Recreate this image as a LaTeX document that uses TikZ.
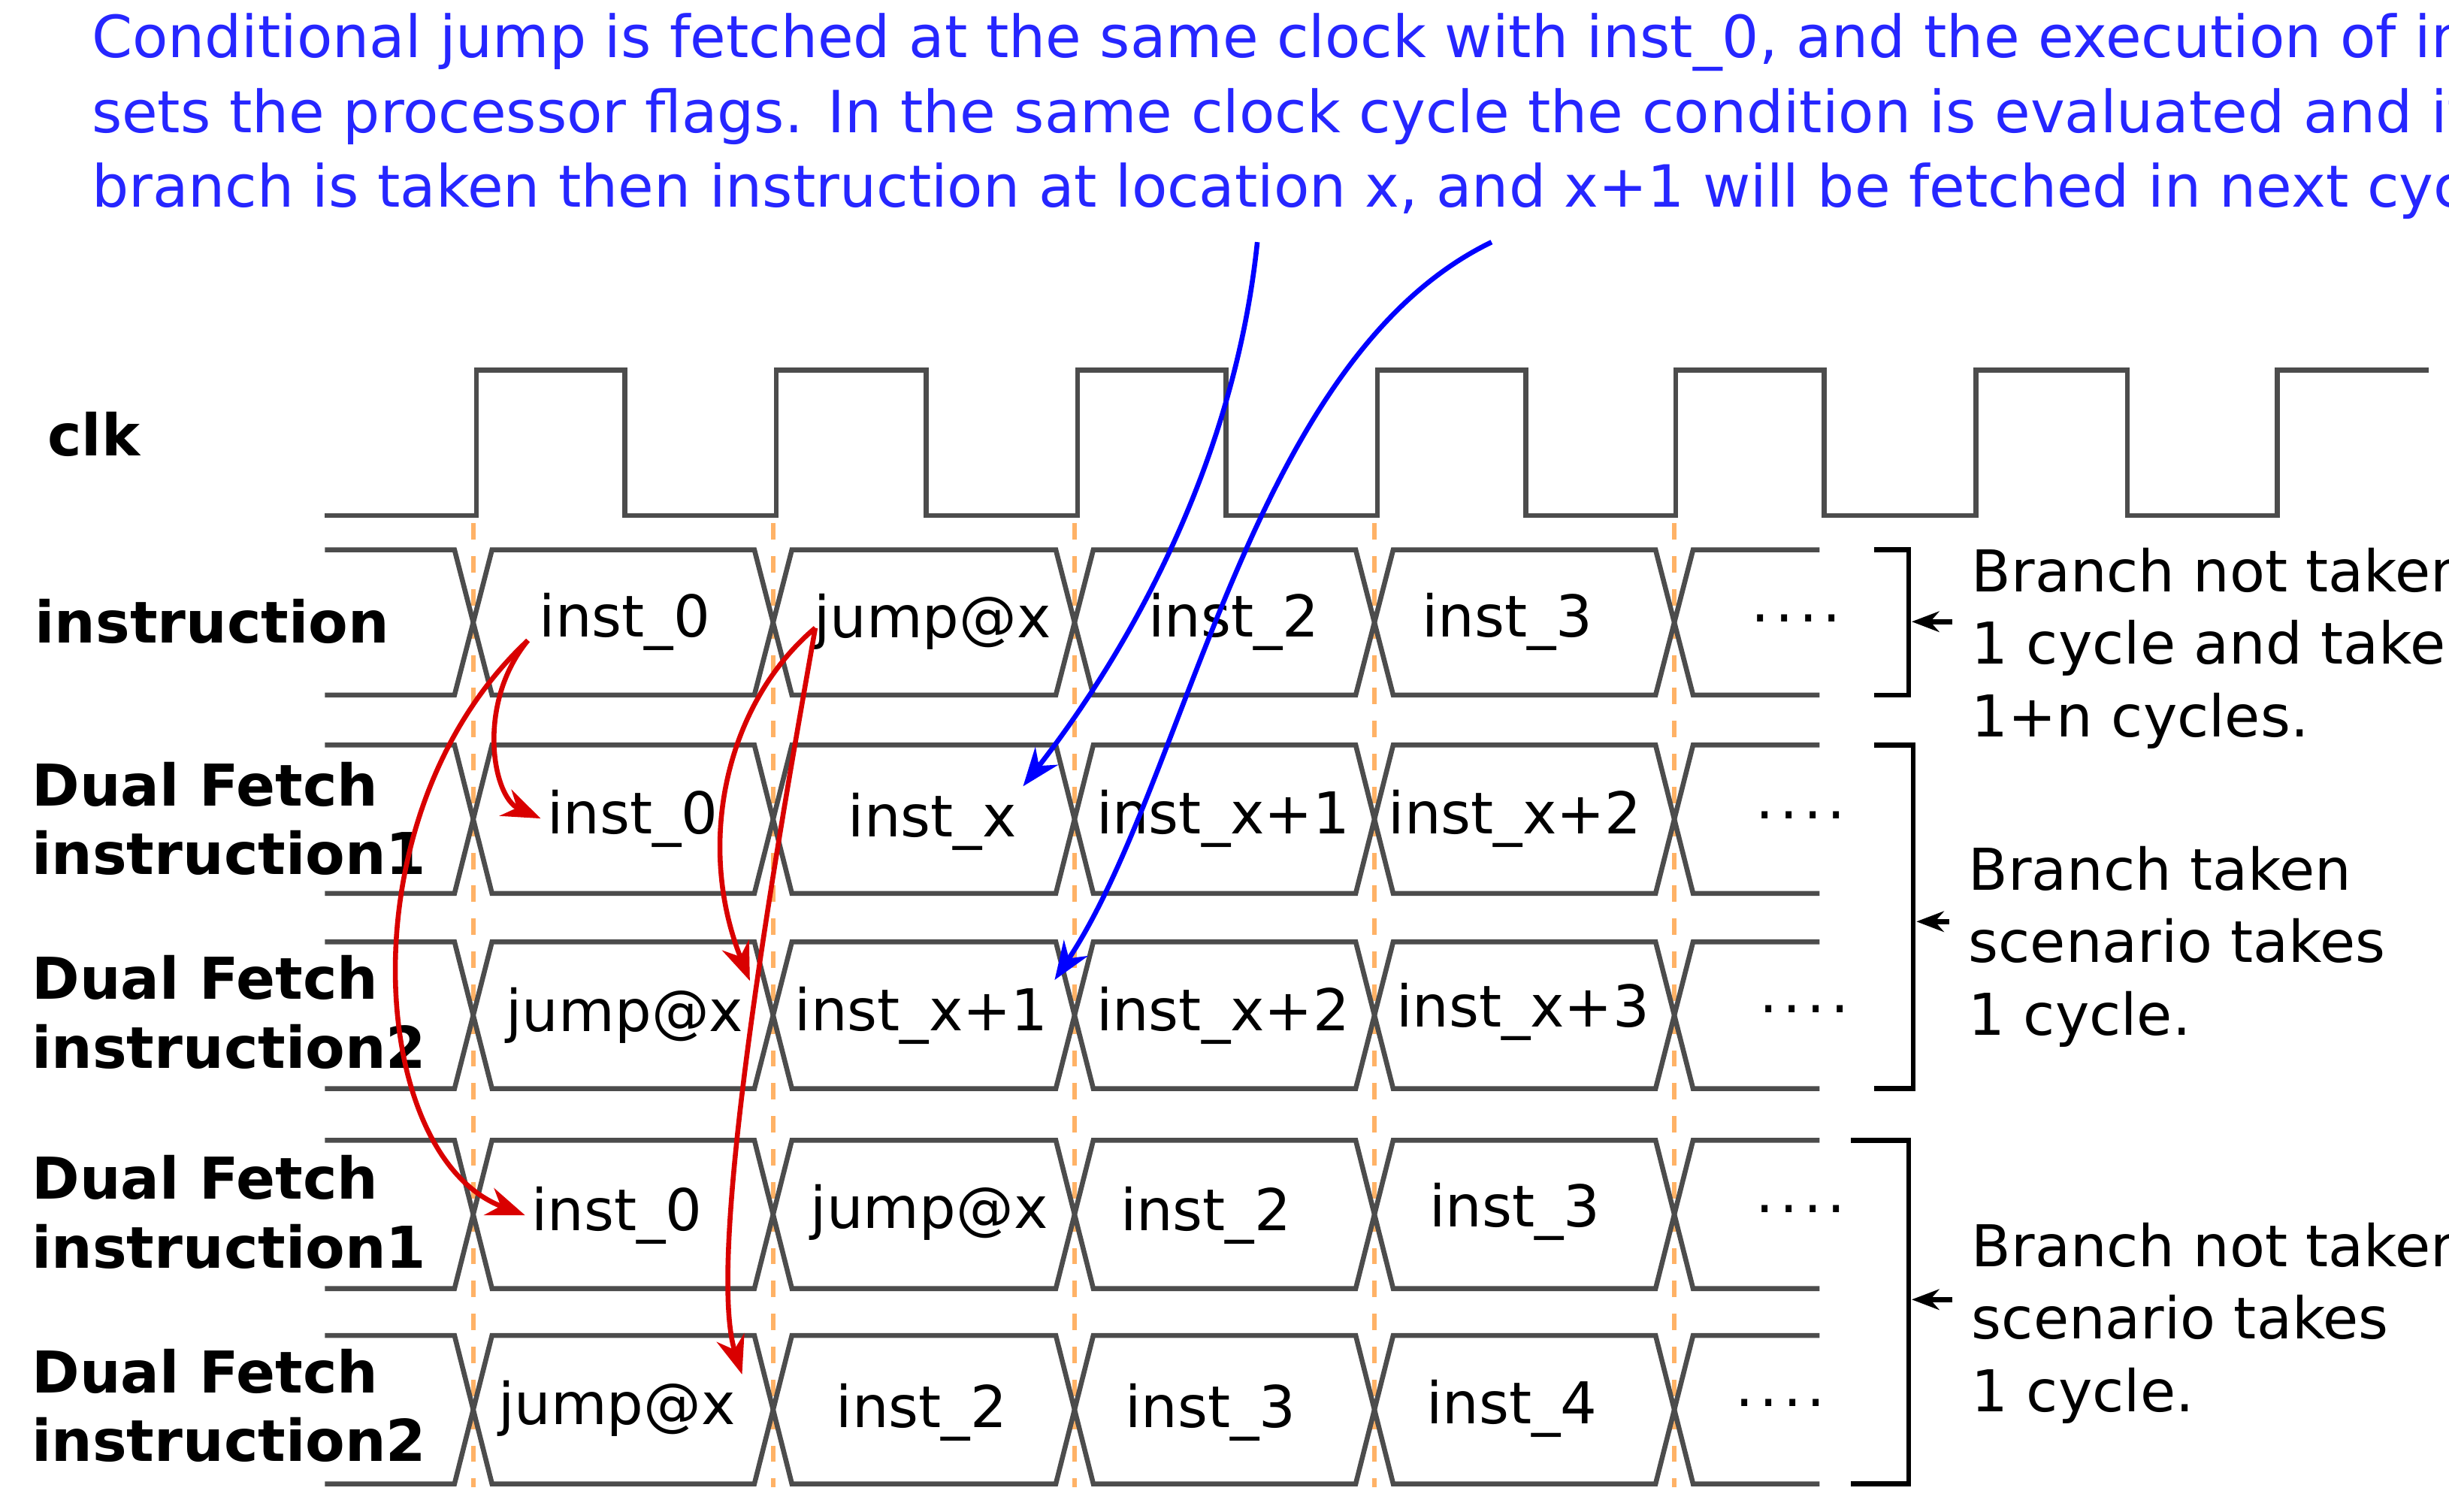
\documentclass[tikz,border=0pt]{standalone}
\usepackage{fontspec}
\setmainfont{DejaVu Sans}
\usetikzlibrary{arrows.meta}
\newcommand{\moredots}{\hbox{\,.\kern1pt.\kern1pt.\kern1pt.}}
\tikzset{
    sig/.style={draw=black!70,line width=0.9pt},
    cell/.style={inner sep=1pt,font=\fontsize{10.5}{12}\selectfont},
    lab/.style={align=left,anchor=west,font=\fontsize{10.5}{12.5}\selectfont\bfseries},
    note/.style={align=left,anchor=west,font=\fontsize{10.5}{13.2}\selectfont},
    grid/.style={draw=orange!60,dashed,line width=0.8pt},
    red arrow/.style={draw=red!85!black,line width=0.9pt,-{Stealth[length=7pt]}},
    blue arrow/.style={draw=blue,line width=0.9pt,-{Stealth[length=7pt]}}
}
\begin{document}
\begin{tikzpicture}[x=0.1mm,y=-0.1mm]
    \useasboundingbox (0,0) rectangle (1568,968);

    % heading
    \node (head) [anchor=north west,align=left,text=blue!85!white,inner sep=0,
        font=\fontsize{10.6}{13.6}\selectfont] at (58,8)
        {Conditional jump is fetched at the same clock with inst\_0, and the execution of inst\_0\\
         sets the processor flags. In the same clock cycle the condition is evaluated and if\\
         branch is taken then instruction at location x, and x+1 will be fetched in next cycle.};
    \coordinate (fromx) at (805,155);
    \coordinate (fromx1) at (955,155);

    % clock
    \draw[sig] (208,330) -- (305,330) -- (305,237) -- (400,237) -- (400,330)
        -- (497,330) -- (497,237) -- (593,237) -- (593,330)
        -- (690,330) -- (690,237) -- (785,237) -- (785,330)
        -- (882,330) -- (882,237) -- (977,237) -- (977,330)
        -- (1073,330) -- (1073,237) -- (1168,237) -- (1168,330)
        -- (1265,330) -- (1265,237) -- (1362,237) -- (1362,330)
        -- (1458,330) -- (1458,237) -- (1555,237);
    \node (clk) [lab] at (18,278) {clk};

    % clock edges
    \foreach \x in {303,495,688,880,1072}
        \draw[grid] (\x,335) -- (\x,952);

    % buses
    \foreach \t/\b in {352/445,477/572,603/697,730/825,855/950} {
        \draw[sig] (208,\t) -- (291,\t) -- (315,\b) -- (483,\b) -- (507,\t) -- (676,\t)
            -- (700,\b) -- (868,\b) -- (892,\t) -- (1060,\t) -- (1084,\b) -- (1165,\b);
        \draw[sig] (208,\b) -- (291,\b) -- (315,\t) -- (483,\t) -- (507,\b) -- (676,\b)
            -- (700,\t) -- (868,\t) -- (892,\b) -- (1060,\b) -- (1084,\t) -- (1165,\t);
    }

    % row labels
    \node (instr) [lab] at (10,398) {instruction};
    \node (dfa) [lab] at (8,524) {Dual Fetch\\instruction1};
    \node (dfb) [lab] at (8,648) {Dual Fetch\\instruction2};
    \node (dfc) [lab] at (8,776) {Dual Fetch\\instruction1};
    \node (dfd) [lab] at (8,900) {Dual Fetch\\instruction2};

    % cells
    \foreach \n/\x/\y/\s in {
        a0/400/398/inst\_0, a1/597/398/jump@x, a2/790/398/inst\_2, a3/965/398/inst\_3, a4/1147/396/\moredots,
        b0/405/524/inst\_0, b1/597/526/inst\_x, b2/783/524/inst\_x+1, b3/970/524/inst\_x+2, b4/1150/522/\moredots,
        c0/400/650/jump@x, c1/590/650/inst\_x+1, c2/783/650/inst\_x+2, c3/975/648/inst\_x+3, c4/1152/646/\moredots,
        d0/395/778/inst\_0, d1/595/776/jump@x, d2/772/778/inst\_2, d3/970/776/inst\_3, d4/1150/774/\moredots,
        e0/395/902/jump@x, e1/590/904/inst\_2, e2/775/904/inst\_3, e3/968/902/inst\_4, e4/1137/898/\moredots}
        \node (\n) [cell] at (\x,\y) {\s};

    % brackets
    \draw[sig,black] (1200,352) -- (1222,352) -- (1222,445) -- (1200,445);
    \draw[sig,black] (1200,477) -- (1225,477) -- (1225,697) -- (1200,697);
    \draw[sig,black] (1185,730) -- (1222,730) -- (1222,950) -- (1185,950);
    \coordinate (ba) at (1224,398);
    \coordinate (bb) at (1227,590);
    \coordinate (bc) at (1224,832);
    \node (na) [note] at (1250,415) {Branch not taken\\1 cycle and taken\\1+n cycles.};
    \node (nb) [note] at (1248,606) {Branch taken\\scenario takes\\1 cycle.};
    \node (nc) [note] at (1250,847) {Branch not taken\\scenario takes\\1 cycle.};
    \foreach \c/\n in {ba/na,bb/nb,bc/nc}
        \draw[line width=0.9pt,-{Stealth[length=5pt]}] (\n.west |- \c) -- (\c);

    % red arrows
    \coordinate (ra) at (338,410);
    \coordinate (rb) at (522,402);
    \draw[red arrow] (ra) .. controls (305,450) and (315,510) .. (b0.west);
    \draw[red arrow] (ra) .. controls (220,520) and (235,740) .. (d0.west);
    \draw[red arrow] (rb) .. controls (465,450) and (445,540) .. (c0.north east);
    \draw[red arrow] (rb) .. controls (505,500) and (450,800) .. (e0.north east);

    % blue arrows
    \draw[blue arrow] (fromx) .. controls (790,300) and (720,420) .. (b1.north east);
    \draw[blue arrow] (fromx1) .. controls (800,230) and (760,500) .. (c1.north east);
\end{tikzpicture}
\end{document}
